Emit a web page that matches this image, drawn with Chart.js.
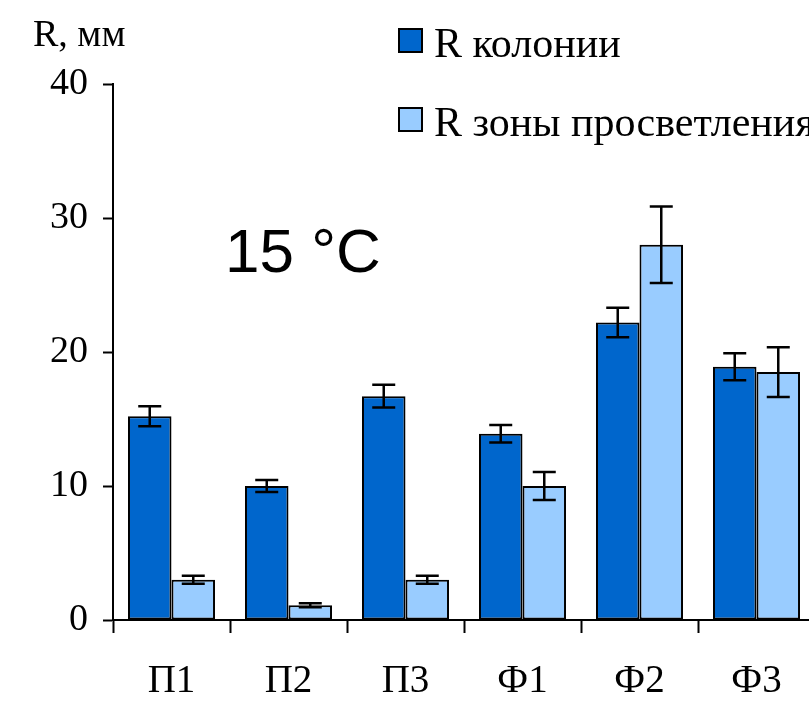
<!DOCTYPE html>
<html>
<head>
<meta charset="utf-8">
<script src="https://cdn.jsdelivr.net/npm/chart.js@4.4.1/dist/chart.umd.min.js"></script>
<style>
  html, body { margin: 0; padding: 0; background: #fff; overflow: hidden; }
  #wrap { width: 820px; height: 713px; }
</style>
</head>
<body>
<div id="wrap"><canvas id="rChart" width="820" height="713"></canvas></div>
<script>
(function() {
    "use strict";

    const categories = ['П1', 'П2', 'П3', 'Ф1', 'Ф2', 'Ф3'];
    const colonyR = [15.2, 10.0, 16.7, 13.9, 22.2, 18.9];
    const colonyErr = [0.75, 0.45, 0.85, 0.65, 1.1, 1.0];
    const zoneR = [3.0, 1.1, 3.0, 10.0, 28.0, 18.5];
    const zoneErr = [0.3, 0.15, 0.3, 1.05, 2.85, 1.85];
    const yTicks = [0, 10, 20, 30, 40];
    const seriesNames = ['R колонии', 'R зоны просветления'];
    const colors = ['#0066CC', '#99CCFF'];

    const serif = '"Liberation Serif", "Times New Roman", serif';

    // error bars, drawn from the data through the y scale
    const errorBars = {
        id: 'errorBars',
        afterDatasetsDraw(chart) {
            const ctx = chart.ctx;
            const y = chart.scales.y;
            ctx.save();
            ctx.strokeStyle = '#000';
            ctx.lineWidth = 2.5;
            chart.data.datasets.forEach((ds, i) => {
                const meta = chart.getDatasetMeta(i);
                meta.data.forEach((bar, j) => {
                    const v = ds.data[j], e = ds.errors[j];
                    const top = y.getPixelForValue(v + e);
                    const bot = y.getPixelForValue(v - e);
                    const x = bar.x, cap = 11.5;
                    ctx.beginPath();
                    ctx.moveTo(x, top); ctx.lineTo(x, bot);
                    ctx.moveTo(x - cap, top); ctx.lineTo(x + cap, top);
                    ctx.moveTo(x - cap, bot); ctx.lineTo(x + cap, bot);
                    ctx.stroke();
                });
            });
            ctx.restore();
        }
    };

    // axis title, temperature note and legend
    const labels = {
        id: 'labels',
        afterDraw(chart) {
            const ctx = chart.ctx;
            ctx.save();
            ctx.fillStyle = '#000';
            ctx.textBaseline = 'alphabetic';
            ctx.textAlign = 'left';
            ctx.font = '38px ' + serif;
            ctx.fillText('R, мм', 33, 46);

            ctx.font = '62px "Liberation Sans", Arial, sans-serif';
            ctx.fillText('15 °C', 225, 272);

            chart.data.datasets.forEach((ds, i) => {
                const bx = 398, by = 28 + i * 79;
                ctx.fillStyle = ds.backgroundColor;
                ctx.fillRect(bx, by, 25, 25);
                ctx.strokeStyle = '#000';
                ctx.lineWidth = 2;
                ctx.strokeRect(bx + 1, by + 1, 23, 23);
                ctx.fillStyle = '#000';
                ctx.font = '42px ' + serif;
                ctx.textBaseline = 'alphabetic';
                ctx.fillText(ds.label, 434, by + 29);
            });
            ctx.restore();
        }
    };

    document.addEventListener("DOMContentLoaded", () => {
        const c1 = document.getElementById('rChart');
        new Chart(c1, {
            type: 'bar',
            data: {
                labels: categories,
                datasets: [{
                    label: seriesNames[0],
                    data: colonyR,
                    errors: colonyErr,
                    backgroundColor: colors[0],
                    borderColor: '#000',
                    borderWidth: 2,
                    borderSkipped: false,
                    categoryPercentage: 0.744,
                    barPercentage: 1.0
                }, {
                    label: seriesNames[1],
                    data: zoneR,
                    errors: zoneErr,
                    backgroundColor: colors[1],
                    borderColor: '#000',
                    borderWidth: 2,
                    borderSkipped: false,
                    categoryPercentage: 0.744,
                    barPercentage: 1.0
                }]
            },
            options: {
                responsive: false,
                animation: false,
                devicePixelRatio: 1,
                layout: { padding: { top: 84, right: 5, left: 0, bottom: 0 } },
                plugins: {
                    legend: { display: false },
                    tooltip: { enabled: false }
                },
                scales: {
                    x: {
                        grid: {
                            offset: true,
                            drawOnChartArea: false,
                            drawTicks: true,
                            tickLength: 13,
                            tickWidth: 2,
                            tickColor: '#000',
                            color: '#000'
                        },
                        border: { display: true, color: '#000', width: 2 },
                        ticks: {
                            color: '#000',
                            padding: 25,
                            font: { family: serif, size: 39 }
                        },
                        afterFit: s => { s.height = 93; }
                    },
                    y: {
                        min: yTicks[0],
                        max: yTicks[yTicks.length - 1],
                        afterBuildTicks: s => { s.ticks = yTicks.map(v => ({ value: v })); },
                        grid: {
                            drawOnChartArea: false,
                            drawTicks: true,
                            tickLength: 10,
                            tickWidth: 2,
                            tickColor: '#000',
                            color: '#000'
                        },
                        border: { display: true, color: '#000', width: 2 },
                        ticks: {
                            color: '#000',
                            padding: 15,
                            font: { family: serif, size: 38 }
                        },
                        afterFit: s => { s.width = 113; }
                    }
                }
            },
            plugins: [errorBars, labels]
        });
    });
})();
</script>
</body>
</html>
